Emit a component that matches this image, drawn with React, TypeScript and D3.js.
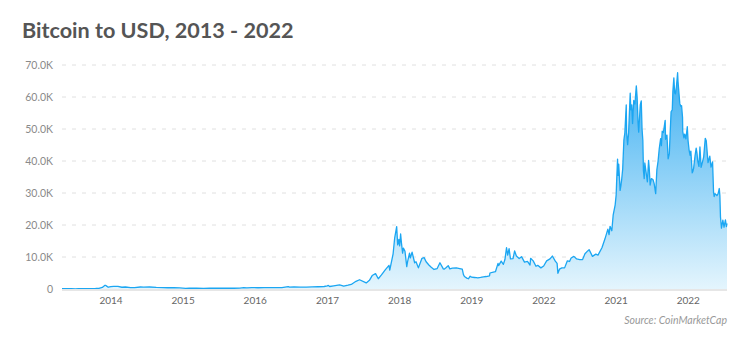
import * as d3 from 'd3';

// Bitcoin closing price, USD (approximate).
const PRICE_POINTS: [string, number][] = [
  ['2013-04-28', 135], ['2013-05-15', 115], ['2013-06-01', 128], ['2013-06-15', 100], ['2013-07-05', 70],
  ['2013-07-20', 90], ['2013-08-15', 100], ['2013-09-15', 130], ['2013-10-15', 155], ['2013-11-01', 200],
  ['2013-11-18', 500], ['2013-11-30', 1100], ['2013-12-04', 1150], ['2013-12-10', 900], ['2013-12-18', 550],
  ['2013-12-31', 750],
  ['2014-01-15', 850], ['2014-02-05', 800], ['2014-02-25', 550], ['2014-03-15', 630], ['2014-04-10', 420],
  ['2014-04-30', 450], ['2014-05-30', 620], ['2014-06-15', 600], ['2014-07-15', 620], ['2014-08-18', 480],
  ['2014-09-20', 400], ['2014-10-15', 390], ['2014-11-15', 400], ['2014-12-15', 350],
  ['2015-01-14', 180], ['2015-02-01', 230], ['2015-03-10', 290], ['2015-04-15', 220], ['2015-05-15', 240],
  ['2015-06-15', 240], ['2015-07-10', 290], ['2015-08-20', 230], ['2015-09-15', 230], ['2015-10-15', 260],
  ['2015-11-04', 400], ['2015-11-20', 330], ['2015-12-15', 450],
  ['2016-01-15', 390], ['2016-02-15', 400], ['2016-03-15', 415], ['2016-04-15', 430], ['2016-05-15', 455],
  ['2016-06-16', 760], ['2016-06-23', 590], ['2016-07-15', 660], ['2016-08-15', 570], ['2016-09-15', 610],
  ['2016-10-15', 640], ['2016-11-15', 710], ['2016-12-15', 780], ['2016-12-31', 960],
  ['2017-01-05', 1130], ['2017-01-12', 780], ['2017-02-01', 980], ['2017-03-03', 1280], ['2017-03-24', 930],
  ['2017-04-15', 1180], ['2017-05-01', 1420], ['2017-05-25', 2400], ['2017-06-12', 2900], ['2017-07-16', 1900],
  ['2017-08-01', 2700], ['2017-08-15', 4200], ['2017-09-01', 4800], ['2017-09-15', 3200], ['2017-10-01', 4400],
  ['2017-10-20', 6000], ['2017-11-08', 7400], ['2017-11-12', 5900], ['2017-11-29', 11000], ['2017-12-07', 16000],
  ['2017-12-17', 19500], ['2017-12-22', 13800], ['2017-12-28', 15500],
  ['2018-01-01', 13500], ['2018-01-06', 17200], ['2018-01-10', 14500], ['2018-01-16', 11200], ['2018-01-20', 12800],
  ['2018-01-28', 11800], ['2018-02-06', 7000], ['2018-02-10', 8500], ['2018-02-20', 11200], ['2018-02-24', 9700],
  ['2018-03-05', 11500], ['2018-03-18', 8200], ['2018-03-25', 8500], ['2018-04-06', 6600], ['2018-04-15', 8100],
  ['2018-04-24', 9600], ['2018-05-05', 9800], ['2018-05-15', 8500], ['2018-05-29', 7500], ['2018-06-10', 6800],
  ['2018-06-24', 6100], ['2018-07-10', 6400], ['2018-07-24', 8200], ['2018-08-10', 6300], ['2018-08-14', 6200],
  ['2018-08-25', 6700], ['2018-09-04', 7300], ['2018-09-12', 6300], ['2018-09-25', 6500], ['2018-10-15', 6600],
  ['2018-11-01', 6400], ['2018-11-14', 6200], ['2018-11-20', 4500], ['2018-11-25', 3900], ['2018-12-07', 3400],
  ['2018-12-15', 3200], ['2018-12-24', 4000], ['2018-12-31', 3700],
  ['2019-01-15', 3600], ['2019-02-01', 3450], ['2019-02-15', 3600], ['2019-03-01', 3800], ['2019-03-15', 3900],
  ['2019-04-01', 4100], ['2019-04-03', 5000], ['2019-04-20', 5300], ['2019-05-01', 5400], ['2019-05-14', 8000],
  ['2019-05-17', 7300], ['2019-05-30', 8700], ['2019-06-10', 7700], ['2019-06-18', 9200], ['2019-06-26', 12900],
  ['2019-07-02', 10600], ['2019-07-09', 12600], ['2019-07-16', 9400], ['2019-07-29', 9500], ['2019-08-06', 11900],
  ['2019-08-15', 10300], ['2019-08-29', 9500], ['2019-09-10', 10100], ['2019-09-25', 8400], ['2019-10-10', 8600],
  ['2019-10-23', 7500], ['2019-10-26', 9600], ['2019-11-08', 8800], ['2019-11-22', 7100], ['2019-12-01', 7400],
  ['2019-12-17', 6600], ['2019-12-31', 7200],
  ['2020-01-15', 8800], ['2020-02-01', 9400], ['2020-02-13', 10300], ['2020-02-28', 8700], ['2020-03-08', 8000],
  ['2020-03-12', 4900], ['2020-03-20', 6200], ['2020-04-01', 6600], ['2020-04-15', 6600], ['2020-04-29', 8800],
  ['2020-05-10', 8600], ['2020-05-18', 9700], ['2020-06-01', 10200], ['2020-06-15', 9400], ['2020-07-01', 9200],
  ['2020-07-15', 9200], ['2020-07-27', 11000], ['2020-08-10', 11900], ['2020-08-17', 12300], ['2020-09-03', 10200],
  ['2020-09-20', 10900], ['2020-10-01', 10600], ['2020-10-21', 12900], ['2020-11-05', 15600], ['2020-11-20', 18700],
  ['2020-11-26', 17000], ['2020-12-01', 19600], ['2020-12-10', 18200], ['2020-12-17', 23200], ['2020-12-27', 26300],
  ['2021-01-01', 29400], ['2021-01-03', 33000], ['2021-01-08', 40600], ['2021-01-11', 35500], ['2021-01-14', 39000],
  ['2021-01-21', 30800], ['2021-01-25', 32300], ['2021-01-29', 34300], ['2021-02-03', 37500], ['2021-02-09', 46500],
  ['2021-02-14', 48800], ['2021-02-21', 57500], ['2021-02-23', 48800], ['2021-02-28', 45100], ['2021-03-05', 48800],
  ['2021-03-13', 61200], ['2021-03-16', 56000], ['2021-03-21', 57500], ['2021-03-25', 51700], ['2021-03-31', 58900],
  ['2021-04-06', 57800], ['2021-04-13', 63500], ['2021-04-17', 60000], ['2021-04-22', 51800], ['2021-04-25', 49000],
  ['2021-05-03', 57500], ['2021-05-08', 58800], ['2021-05-12', 50000], ['2021-05-16', 46500], ['2021-05-19', 37000],
  ['2021-05-23', 34500], ['2021-05-26', 39400], ['2021-06-01', 36700], ['2021-06-08', 33500], ['2021-06-14', 40200],
  ['2021-06-17', 38000], ['2021-06-22', 32500], ['2021-06-28', 34500], ['2021-07-06', 34200], ['2021-07-12', 33000],
  ['2021-07-20', 29800], ['2021-07-26', 37300], ['2021-08-01', 39900], ['2021-08-07', 43800], ['2021-08-14', 47000],
  ['2021-08-18', 44800], ['2021-08-22', 49300], ['2021-08-28', 48900], ['2021-09-06', 52700], ['2021-09-08', 46800],
  ['2021-09-15', 48100], ['2021-09-21', 40700], ['2021-09-27', 42200], ['2021-10-01', 48200], ['2021-10-06', 55400],
  ['2021-10-12', 56000], ['2021-10-15', 61700], ['2021-10-20', 66000], ['2021-10-24', 61300], ['2021-10-28', 61000],
  ['2021-11-02', 63200], ['2021-11-08', 67600], ['2021-11-10', 64900], ['2021-11-16', 60300], ['2021-11-19', 58000],
  ['2021-11-24', 57100], ['2021-11-28', 57300], ['2021-12-03', 53600], ['2021-12-04', 49200], ['2021-12-10', 47200],
  ['2021-12-14', 48400], ['2021-12-20', 46900], ['2021-12-27', 50700], ['2021-12-31', 46300],
  ['2022-01-05', 43500], ['2022-01-10', 41800], ['2022-01-14', 43100], ['2022-01-21', 36300], ['2022-01-24', 36700],
  ['2022-01-28', 37700], ['2022-02-04', 41500], ['2022-02-10', 44000], ['2022-02-14', 42500], ['2022-02-18', 40000],
  ['2022-02-24', 38300], ['2022-03-01', 44400], ['2022-03-07', 38000], ['2022-03-14', 39700], ['2022-03-20', 41300],
  ['2022-03-28', 47100], ['2022-04-02', 46300], ['2022-04-11', 39500], ['2022-04-20', 41500], ['2022-04-26', 38100],
  ['2022-05-04', 39700], ['2022-05-09', 30100], ['2022-05-12', 28900], ['2022-05-16', 29800], ['2022-05-26', 29200],
  ['2022-06-01', 29800], ['2022-06-07', 31400], ['2022-06-10', 29100], ['2022-06-13', 22500], ['2022-06-18', 19000],
  ['2022-06-25', 21500], ['2022-07-01', 19300], ['2022-07-08', 21600], ['2022-07-13', 19500], ['2022-07-16', 20500],
];

const Y_TICKS = [0, 10000, 20000, 30000, 40000, 50000, 60000, 70000];
const X_TICK_DATES = ['2014-01-01', '2015-01-01', '2016-01-01', '2017-01-01', '2018-01-01', '2019-01-01', '2020-01-01', '2021-01-01', '2022-01-01'];
// labels exactly as printed on the source chart
const X_TICK_LABELS = ['2014', '2015', '2016', '2017', '2018', '2019', '2022', '2021', '2022'];

const TITLE = 'Bitcoin to USD, 2013 - 2022';
const SOURCE = 'Source: CoinMarketCap';

const W = 750;
const H = 344;
const M = { left: 62, right: 23, top: 65, bottom: 55 };
const FONT = 'Lato, "Open Sans", sans-serif';

const parse = d3.utcParse('%Y-%m-%d');

export default function App() {
  const data = PRICE_POINTS.map(([d, v]) => ({ date: parse(d) as Date, value: v }));

  const x = d3
    .scaleUtc()
    .domain(d3.extent(data, (d) => d.date) as [Date, Date])
    .range([M.left, W - M.right]);
  const y = d3.scaleLinear().domain([0, 70000]).range([H - M.bottom, M.top]);

  const area = d3
    .area<{ date: Date; value: number }>()
    .x((d) => x(d.date))
    .y0(y(0))
    .y1((d) => y(d.value));
  const line = d3
    .line<{ date: Date; value: number }>()
    .x((d) => x(d.date))
    .y((d) => y(d.value));

  const fmt = (v: number) => (v === 0 ? '0' : `${(v / 1000).toFixed(1)}K`);

  return (
    <svg width={W} height={H} style={{ position: 'absolute', left: 0, top: 0, background: '#fff' }}>
      <defs>
        <linearGradient id="btcFill" gradientUnits="userSpaceOnUse" x1="0" x2="0" y1={y(70000)} y2={y(0)}>
          <stop offset="0%" stopColor="#3aaef1" />
          <stop offset="100%" stopColor="#e4f5fd" />
        </linearGradient>
      </defs>

      <text x={22} y={38} fontFamily={FONT} fontWeight={700} fontSize={21.6} fill="#555">
        {TITLE}
      </text>

      {Y_TICKS.map((t) => (
        <g key={t}>
          {t > 0 && (
            <line x1={M.left} x2={W - M.right} y1={y(t)} y2={y(t)} stroke="#e0e0e0" strokeDasharray="4,6" />
          )}
          <text x={53} y={y(t)} dy="0.35em" textAnchor="end" fontFamily={FONT} fontSize={10.5} fill="#8a8a8a">
            {fmt(t)}
          </text>
        </g>
      ))}

      <path d={area(data) ?? ''} fill="url(#btcFill)" />
      <path d={line(data) ?? ''} fill="none" stroke="#1ba6f2" strokeWidth={1.3} strokeLinejoin="round" />

      <line x1={M.left} x2={W - M.right} y1={y(0) + 1} y2={y(0) + 1} stroke="#e6e6e6" strokeWidth={2} />

      {X_TICK_DATES.map((d, i) => (
        <text
          key={d + i}
          x={x(parse(d) as Date)}
          y={304}
          textAnchor="middle"
          fontFamily={FONT}
          fontSize={10}
          fill="#666"
        >
          {X_TICK_LABELS[i]}
        </text>
      ))}

      <text x={W - M.right} y={324} textAnchor="end" fontFamily={FONT} fontStyle="italic" fontSize={10.5} fill="#999">
        {SOURCE}
      </text>
    </svg>
  );
}
